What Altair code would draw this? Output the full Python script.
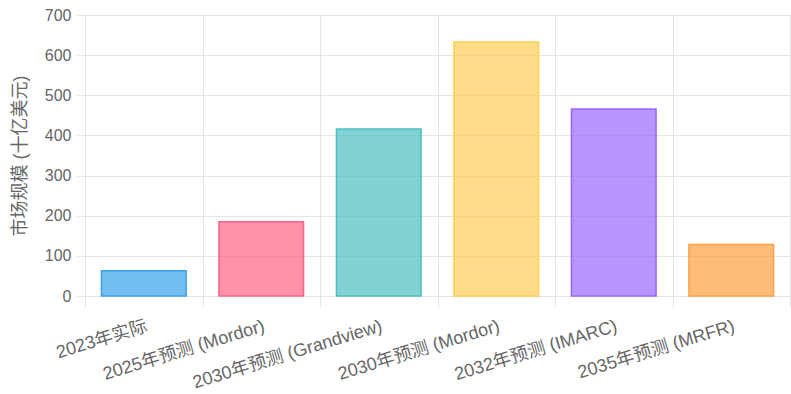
import altair as alt
import pandas as pd

categories = ["2023年实际", "2025年预测 (Mordor)", "2030年预测 (Grandview)",
              "2030年预测 (Mordor)", "2032年预测 (IMARC)", "2035年预测 (MRFR)"]
values = [63, 185, 416, 633, 466, 128]
colors = ["#36A2EB", "#FF6384", "#4BC0C0", "#FFCD56", "#9966FF", "#FF9F40"]

df = pd.DataFrame({"cat": categories, "val": values})
FONT = "Liberation Sans, Arial, Noto Sans CJK SC"

chart = alt.Chart(df).mark_bar(fillOpacity=0.7, strokeWidth=1.5, strokeOpacity=1,
                               width=alt.RelativeBandSize(0.72)).encode(
    x=alt.X("cat:N", sort=categories, title=None,
            scale=alt.Scale(paddingInner=0, paddingOuter=0),
            axis=alt.Axis(labelAngle=-17, labelAlign="right", labelBaseline="top",
                          tickBand="extent", grid=True, tickSize=11, labelPadding=10,
                          domain=False, labelFontSize=18, labelLimit=0)),
    y=alt.Y("val:Q", title="市场规模 (十亿美元)",
            scale=alt.Scale(domain=[0, 700], nice=False),
            axis=alt.Axis(values=[0, 100, 200, 300, 400, 500, 600, 700], tickSize=8,
                          labelPadding=6, titlePadding=15, domain=False)),
    fill=alt.Color("cat:N", sort=categories, scale=alt.Scale(domain=categories, range=colors), legend=None),
    stroke=alt.Color("cat:N", sort=categories, scale=alt.Scale(domain=categories, range=colors), legend=None),
).properties(
    width=705, height=281,
    autosize=alt.AutoSizeParams(type="none"),
    padding={"left": 85, "top": 15, "right": 1, "bottom": 98},
).configure_view(stroke=None).configure_axis(
    gridColor="#e5e5e5", tickColor="#e5e5e5", labelColor="#666666", titleColor="#666666",
    labelFont=FONT, titleFont=FONT, labelFontSize=16, titleFontSize=18,
    titleFontWeight="normal", gridWidth=1,
)

chart.save("out.html", embed_options={"renderer": "svg", "actions": False})
